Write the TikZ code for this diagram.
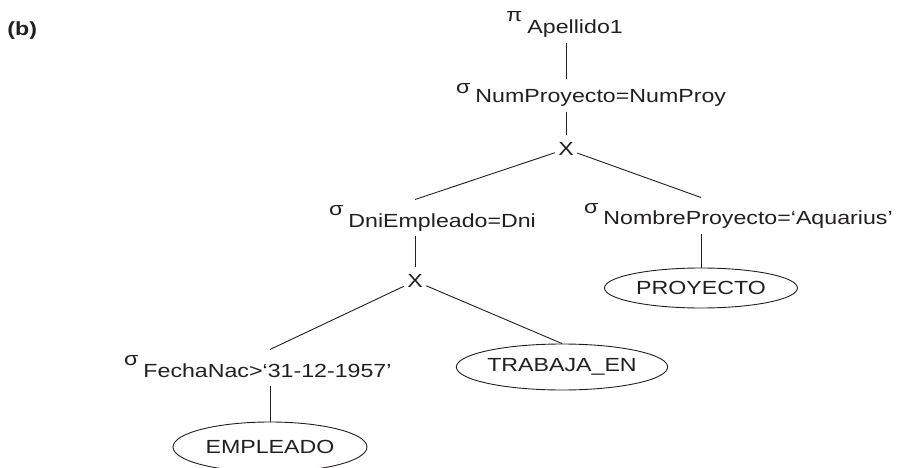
\documentclass[tikz,border=0pt]{standalone}
\usepackage{fontspec}
\setmainfont{Liberation Sans}[FakeStretch=1.22]
\usetikzlibrary{shapes.geometric}
\definecolor{ink}{HTML}{231F20}
% operator symbol hung to the left of its subscript
\newcommand{\opsym}[3][12pt]{\llap{\raisebox{#1}{#2}\hspace{5pt}}#3}

\begin{document}
\begin{tikzpicture}[x=1pt,y=-1pt,font=\fontsize{19}{22}\selectfont,
    color=ink,line width=0.9pt,
    lbl/.style={anchor=base west,inner xsep=0pt,inner ysep=5pt,text depth=4pt},
    cross/.style={inner xsep=3pt,inner ysep=7pt},
    rel/.style={ellipse,draw,inner sep=0pt}]
  \useasboundingbox (0,0) rectangle (900,468);

  \node[anchor=base west,inner sep=0pt,font=\fontsize{19}{22}\selectfont\bfseries]
    (tag) at (7,36) {(b)};

  % operators
  \node[lbl] (pi) at (527,34) {\opsym{π}{Apellido1}};
  \node[lbl] (numproy) at (475,103) {\opsym[9pt]{σ}{NumProyecto=NumProy}};
  \node[cross] (x1) at (566,149) {X};
  \node[lbl] (dni) at (348,227) {\opsym{σ}{DniEmpleado=Dni}};
  \node[lbl] (nombre) at (603,225) {\opsym{σ}{NombreProyecto=‘Aquarius’}};
  \node[cross] (x2) at (415,281) {X};
  \node[lbl] (fecha) at (143,377) {\opsym{σ}{FechaNac>‘31-12-1957’}};

  % relations
  \node[rel,minimum width=193pt,minimum height=40pt] (proyecto) at (701,288) {PROYECTO};
  \node[rel,minimum width=200pt,minimum height=46pt] (trabaja) at (562,367) {TRABAJA\_EN};
  \node[rel,minimum width=194pt,minimum height=50pt] (empleado) at (270,447) {EMPLEADO};

  % tree edges
  \draw (x1 |- pi.south) -- (x1 |- numproy.north);
  \draw (x1 |- numproy.south) -- (x1);
  \draw (x1) -- (x2 |- dni.north);
  \draw (x1) -- (proyecto |- nombre.north);
  \draw (x2 |- dni.south) -- (x2);
  \draw (proyecto |- nombre.south) -- (proyecto);
  \draw (x2) -- (empleado |- fecha.north);
  \draw (x2) -- (trabaja.north);
  \draw (empleado |- fecha.south) -- (empleado);
\end{tikzpicture}
\end{document}
